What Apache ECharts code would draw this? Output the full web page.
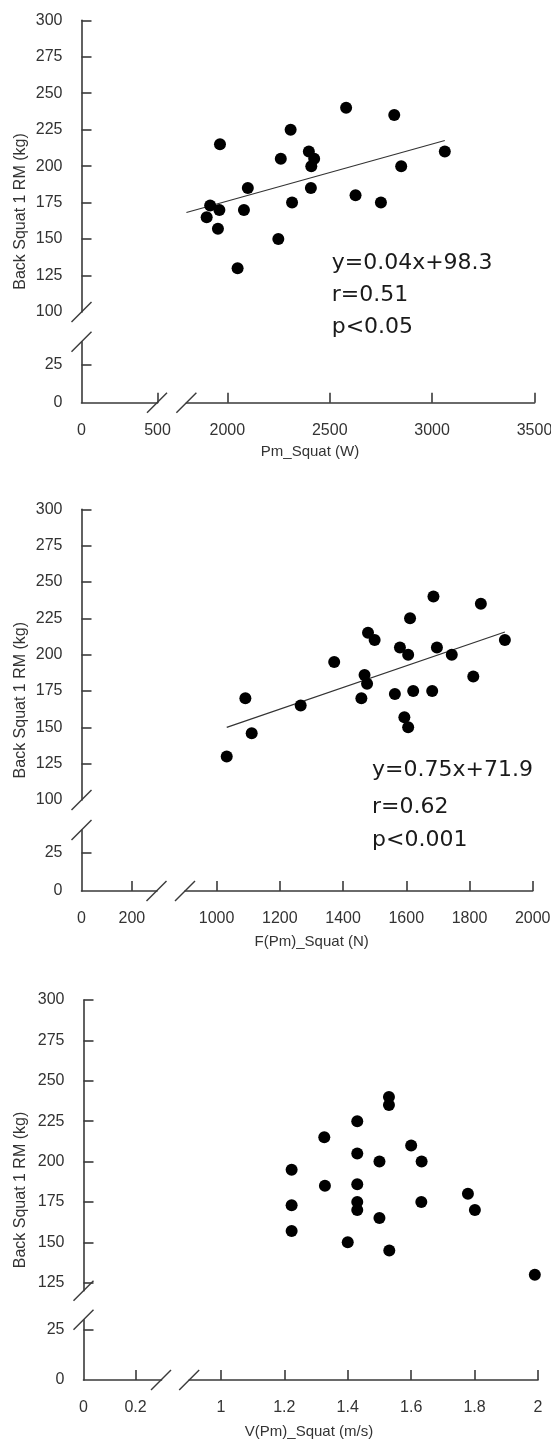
<!DOCTYPE html>
<html><head><meta charset="utf-8">
<script src="https://cdn.jsdelivr.net/npm/echarts@6/dist/echarts.min.js"></script>
<style>html,body{margin:0;padding:0;background:#fff}#c{width:551px;height:1443px}</style>
</head><body><div id="c"></div><script>
// ---------- data ----------
const p1X = [1964,2580,2815,2309,2398,2424,2410,2261,3062,2849,2100,2408,2626,2316,2750,1916,1961,2081,1899,1954,2249,2050];
const p1Y = [215,240,235,225,210,205,200,205,210,200,185,185,180,175,175,173,170,170,165,157,150,130];
const p1Trend = [[1800,168.2],[3062,217.6]];
const p1Stats = ['y=0.04x+98.3','r=0.51','p<0.05'];

const p2X = [1091,1266,1372,1479,1500,1580,1606,1612,1686,1836,1697,1744,1912,1468,1476,1458,1564,1622,1682,1812,1594,1606,1111,1032];
const p2Y = [170,165,195,215,210,205,200,225,240,235,205,200,210,186,180,170,173,175,175,185,157,150,146,130];
const p2Trend = [[1032,150],[1912,215.6]];
const p2Stats = ['y=0.75x+71.9','r=0.62','p<0.001'];

const p3X = [1.53,1.53,1.43,1.326,1.6,1.43,1.5,1.633,1.223,1.328,1.43,1.779,1.223,1.43,1.43,1.632,1.801,1.5,1.223,1.4,1.531,1.99];
const p3Y = [240,235,225,215,210,205,200,200,195,185,186,180,173,175,170,175,170,165,157,150,145,130];

const xTitles = ['Pm_Squat (W)','F(Pm)_Squat (N)','V(Pm)_Squat (m/s)'];
const yTitle = 'Back Squat 1 RM (kg)';

// axis ranges (broken axes: left/right x segments, lower/upper y segments)
const xLeftRange  = [[0,500],[0,300],[0,0.3]];
const xRightRange = [[1800,3500],[900,2000],[0.9,2.0]];
const yUpperRange = [[100,300],[100,300],[120,300]];
const yLowerRange = [[0,40],[0,40],[0,30]];

// tick labels
const xLeftTicks  = [[0,500],[0,200],[0,0.2]];
const xRightTicks = [[2000,2500,3000,3500],[1000,1200,1400,1600,1800,2000],[1,1.2,1.4,1.6,1.8,2]];
const yUpperTicks = [[100,125,150,175,200,225,250,275,300],[100,125,150,175,200,225,250,275,300],[125,150,175,200,225,250,275,300]];
const yLowerTicks = [[0,25],[0,25],[0,25]];

// ---------- layout (pixels) ----------
const L = [
 {axisX:81.5, leftEnd:157.5, rightStart:186.4, rightEnd:534.5, top:20.3, upperBottom:312, lowerTop:341.7, axisY:402.7, titleX:310, titleY:451.7, statX:331.7, statY:[263,295,327]},
 {axisX:81.5, leftEnd:157,   rightStart:185,   rightEnd:532.7, top:509.3, upperBottom:800, lowerTop:830, axisY:891, titleX:311.7, titleY:941.7, statX:372, statY:[770,807,840]},
 {axisX:83.5, leftEnd:161.5, rightStart:189.2, rightEnd:538, top:1000, upperBottom:1290.8, lowerTop:1319.7, axisY:1380, titleX:309, titleY:1431.7}
];

const AX = '#3a3a3a';
const LBL = {color:'#333', fontFamily:'Liberation Sans, Arial, sans-serif', fontSize:16};
const fmt = v => String(v);

const grid=[], xAxis=[], yAxis=[], series=[], graphic=[];
const scatterData = [[p1X,p1Y],[p2X,p2Y],[p3X,p3Y]];
const trends = [p1Trend,p2Trend,null];
const stats = [p1Stats,p2Stats,null];

function hiddenAxis(gi, range){ return {type:'value', gridIndex:gi, min:range[0], max:range[1], show:false}; }

L.forEach((g,p)=>{
  const base = grid.length;
  const upH = g.upperBottom-g.top, loH = g.axisY-g.lowerTop;
  grid.push({left:g.rightStart, top:g.top, width:g.rightEnd-g.rightStart, height:upH, outerBoundsMode:'none', containLabel:false});
  grid.push({left:g.axisX, top:g.top, width:g.leftEnd-g.axisX, height:upH, outerBoundsMode:'none', containLabel:false});
  grid.push({left:g.axisX, top:g.lowerTop, width:g.leftEnd-g.axisX, height:loH, outerBoundsMode:'none', containLabel:false});
  grid.push({left:g.rightStart, top:g.lowerTop, width:g.rightEnd-g.rightStart, height:loH, outerBoundsMode:'none', containLabel:false});

  xAxis.push(hiddenAxis(base, xRightRange[p]));
  yAxis.push(hiddenAxis(base, yUpperRange[p]));
  xAxis.push(hiddenAxis(base+1, [0,1]));
  yAxis.push({type:'value', gridIndex:base+1, min:yUpperRange[p][0], max:yUpperRange[p][1],
    axisLine:{show:true, lineStyle:{color:AX, width:1.6}},
    axisTick:{show:true, inside:true, length:10, lineStyle:{color:AX, width:1.6}, customValues: yUpperTicks[p].filter(v=>v!==yUpperRange[p][0])},
    axisLabel:Object.assign({margin:19, formatter:fmt, customValues:yUpperTicks[p]}, LBL),
    splitLine:{show:false}});
  xAxis.push({type:'value', gridIndex:base+2, min:xLeftRange[p][0], max:xLeftRange[p][1],
    axisLine:{show:true, onZero:false, lineStyle:{color:AX, width:1.6}},
    axisTick:{show:true, inside:true, length:10, lineStyle:{color:AX, width:1.6}, customValues: xLeftTicks[p].filter(v=>v!==0)},
    axisLabel:Object.assign({margin:20, formatter:fmt, customValues:xLeftTicks[p]}, LBL),
    splitLine:{show:false}});
  yAxis.push({type:'value', gridIndex:base+2, min:yLowerRange[p][0], max:yLowerRange[p][1],
    axisLine:{show:true, onZero:false, lineStyle:{color:AX, width:1.6}},
    axisTick:{show:true, inside:true, length:10, lineStyle:{color:AX, width:1.6}, customValues: yLowerTicks[p].filter(v=>v!==0)},
    axisLabel:Object.assign({margin:19, formatter:fmt, customValues:yLowerTicks[p]}, LBL),
    splitLine:{show:false}});
  xAxis.push({type:'value', gridIndex:base+3, min:xRightRange[p][0], max:xRightRange[p][1],
    axisLine:{show:true, onZero:false, lineStyle:{color:AX, width:1.6}},
    axisTick:{show:true, inside:true, length:10, lineStyle:{color:AX, width:1.6}, customValues: xRightTicks[p]},
    axisLabel:Object.assign({margin:20, formatter:fmt, customValues:xRightTicks[p]}, LBL),
    splitLine:{show:false}});
  yAxis.push(hiddenAxis(base+3, yLowerRange[p]));

  const [xs, ys] = scatterData[p];
  series.push({type:'scatter', xAxisIndex:base, yAxisIndex:base, symbol:'circle', symbolSize:12,
    itemStyle:{color:'#000', opacity:1}, data: xs.map((x,i)=>[x, ys[i]]), z:5, silent:true});
  if (trends[p]) {
    series.push({type:'line', xAxisIndex:base, yAxisIndex:base, data:trends[p], showSymbol:false, symbol:'none',
      lineStyle:{color:'#333', width:1.2}, z:3, silent:true});
  }

  const sl = (cx,cy)=>({type:'line', shape:{x1:cx-10,y1:cy+10,x2:cx+10,y2:cy-10}, style:{stroke:AX, lineWidth:1.4}, silent:true});
  graphic.push(sl(g.axisX, g.upperBottom), sl(g.axisX, g.lowerTop), sl(g.leftEnd-0.5, g.axisY), sl(g.rightStart, g.axisY));

  graphic.push({type:'text', x:g.titleX, y:g.titleY, style:{text:xTitles[p], x:0, y:0, align:'center', verticalAlign:'middle', fill:'#333', font:'15px "Liberation Sans", Arial, sans-serif'}, silent:true});
  graphic.push({type:'text', x:21, y:(g.top+g.axisY)/2, rotation:Math.PI/2, style:{text:yTitle, x:0, y:0, align:'center', verticalAlign:'middle', fill:'#333', font:'16px "Liberation Sans", Arial, sans-serif'}, silent:true});

  if (stats[p]) {
    stats[p].forEach((t,i)=>{
      graphic.push({type:'text', x:g.statX, y:g.statY[i], style:{text:t, x:0, y:0, align:'left', verticalAlign:'middle', fill:'#1a1a1a', font:'22px "DejaVu Sans", sans-serif'}, silent:true});
    });
  }
});

const chart = echarts.init(document.getElementById('c'), null, {renderer:'canvas', width:551, height:1443});
chart.setOption({backgroundColor:'#fff', animation:false, grid, xAxis, yAxis, series, graphic});
</script></body></html>
